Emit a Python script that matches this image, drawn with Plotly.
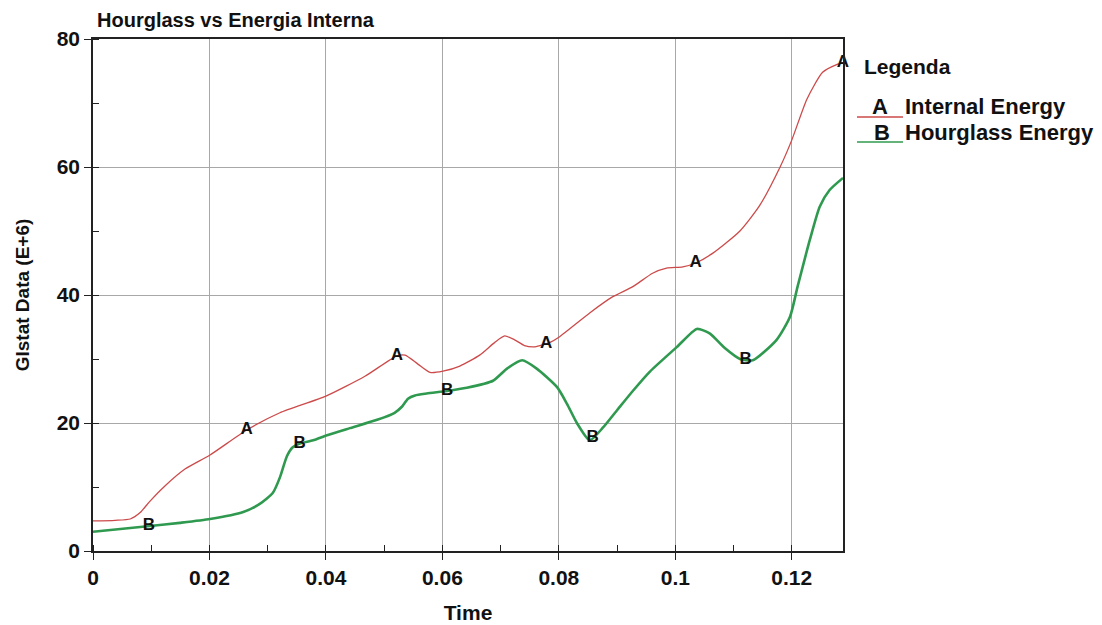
import numpy as np
import plotly.graph_objects as go

# ---- data ----
time_internal = [0.0, 0.0038, 0.0064, 0.0081, 0.0098, 0.0124, 0.0158, 0.0201, 0.0264, 0.0321,
                 0.0400, 0.0467, 0.0522, 0.0536, 0.0558, 0.0579, 0.0601, 0.0630, 0.0664, 0.0690,
                 0.0707, 0.0724, 0.0741, 0.0759, 0.0785, 0.0800, 0.0853, 0.0892, 0.0927, 0.0961,
                 0.0985, 0.1013, 0.1035, 0.1064, 0.1111, 0.1145, 0.1180, 0.1200, 0.1226, 0.1253,
                 0.1277, 0.1288]
internal_energy = [4.7, 4.8, 5.0, 6.0, 7.8, 10.2, 12.8, 15.0, 18.9, 21.6,
                   24.2, 27.3, 30.5, 30.6, 29.2, 27.9, 28.1, 28.9, 30.6, 32.6,
                   33.6, 33.0, 32.1, 31.9, 32.6, 33.4, 37.2, 39.7, 41.3, 43.4,
                   44.2, 44.4, 45.0, 46.5, 50.0, 54.0, 60.0, 64.2, 70.6, 74.8,
                   76.0, 76.3]

time_hourglass = [0.0, 0.0098, 0.0149, 0.0201, 0.0258, 0.0287, 0.0309, 0.0321, 0.0333, 0.0343,
                  0.0355, 0.0378, 0.0402, 0.0441, 0.0488, 0.0518, 0.0530, 0.0541, 0.0553, 0.0573,
                  0.0608, 0.0642, 0.0687, 0.0711, 0.0737, 0.0762, 0.0797, 0.0814, 0.0831, 0.0853,
                  0.0876, 0.0900, 0.0927, 0.0956, 0.1003, 0.1037, 0.1059, 0.1085, 0.1111, 0.1133,
                  0.1174, 0.1197, 0.1210, 0.1231, 0.1248, 0.1265, 0.1288]
hourglass_energy = [3.0, 3.9, 4.4, 5.0, 6.1, 7.4, 9.1, 11.5, 14.8, 16.2,
                    16.8, 17.3, 18.1, 19.2, 20.5, 21.6, 22.5, 23.8, 24.3, 24.6,
                    25.0, 25.5, 26.6, 28.5, 29.8, 28.5, 25.6, 23.0, 20.0, 17.3,
                    19.3, 22.0, 25.0, 28.0, 31.9, 34.7, 34.0, 31.7, 30.0, 29.8,
                    33.0, 36.6, 41.3, 48.6, 53.8, 56.4, 58.3]

label_time_A = [0.0264, 0.0522, 0.0778, 0.1035, 0.1288]
label_time_B = [0.0096, 0.0355, 0.0608, 0.0858, 0.1121]

x_ticks = [0, 0.02, 0.04, 0.06, 0.08, 0.1, 0.12]
y_ticks = [0, 20, 40, 60, 80]

RED = "#cc4a4a"
GREEN = "#2f9a4f"
FONT = "Arial, Liberation Sans, sans-serif"

# the page body adds an 8px offset; margins compensate for it
OFF = 8
W, H = 1102, 625
PLOT_L, PLOT_R, PLOT_T, PLOT_B = 93, 843, 39, 551  # target page pixels

fig = go.Figure()
fig.add_trace(go.Scatter(x=time_internal, y=internal_energy, mode="lines",
                         line=dict(color=RED, width=1.3, shape="spline", smoothing=0.6),
                         name="Internal Energy", showlegend=False))
fig.add_trace(go.Scatter(x=time_hourglass, y=hourglass_energy, mode="lines",
                         line=dict(color=GREEN, width=2.6, shape="spline", smoothing=0.6),
                         name="Hourglass Energy", showlegend=False))

# curve letter labels, placed on the curves
fig.add_trace(go.Scatter(x=label_time_A, y=np.interp(label_time_A, time_internal, internal_energy),
                         mode="text", text=["<b>A</b>"] * len(label_time_A),
                         textfont=dict(family=FONT, size=17, color="#111"),
                         showlegend=False, hoverinfo="skip", cliponaxis=False))
fig.add_trace(go.Scatter(x=label_time_B, y=np.interp(label_time_B, time_hourglass, hourglass_energy),
                         mode="text", text=["<b>B</b>"] * len(label_time_B),
                         textfont=dict(family=FONT, size=17, color="#111"),
                         showlegend=False, hoverinfo="skip", cliponaxis=False))

# custom legend (paper coordinates)
def px_x(p):
    return (p - PLOT_L) / float(PLOT_R - PLOT_L)

def px_y(p):
    return (PLOT_B - p) / float(PLOT_B - PLOT_T)

annos = [
    dict(text="<b>Legenda</b>", x=px_x(862), y=px_y(66), xanchor="left", yanchor="middle", size=21),
    dict(text="<b>A</b>", x=px_x(880), y=px_y(106), xanchor="center", yanchor="middle", size=22),
    dict(text="<b>Internal Energy</b>", x=px_x(903), y=px_y(106), xanchor="left", yanchor="middle", size=22),
    dict(text="<b>B</b>", x=px_x(882), y=px_y(132), xanchor="center", yanchor="middle", size=22),
    dict(text="<b>Hourglass Energy</b>", x=px_x(903), y=px_y(132), xanchor="left", yanchor="middle", size=22),
]
for a in annos:
    s = a.pop("size")
    a.update(xref="paper", yref="paper", showarrow=False,
             font=dict(family=FONT, size=s, color="#111"))
fig.update_layout(annotations=annos)
fig.add_shape(type="line", xref="paper", yref="paper", x0=px_x(857), x1=px_x(903),
              y0=px_y(117), y1=px_y(117), line=dict(color=RED, width=1.5))
fig.add_shape(type="line", xref="paper", yref="paper", x0=px_x(857), x1=px_x(903),
              y0=px_y(142), y1=px_y(142), line=dict(color=GREEN, width=1.5))

axis_common = dict(showgrid=True, gridcolor="#a8a8a8", gridwidth=1,
                   showline=True, linecolor="#222", linewidth=1.6, mirror=True,
                   ticks="outside", ticklen=7, tickcolor="#222", tickwidth=1,
                   zeroline=False,
                   tickfont=dict(family=FONT, size=21, color="#111"))

fig.update_xaxes(range=[0, 0.1288], tickvals=x_ticks,
                 ticktext=["<b>%s</b>" % ("0" if v == 0 else ("%g" % v)) for v in x_ticks],
                 minor=dict(ticks="inside", ticklen=6, dtick=0.01, tick0=0, tickcolor="#222", showgrid=False),
                 title=dict(text="<b>Time</b>", font=dict(family=FONT, size=21, color="#111"), standoff=17),
                 **axis_common)
fig.update_yaxes(range=[0, 80], tickvals=y_ticks,
                 ticktext=["<b>%d</b>" % v for v in y_ticks],
                 minor=dict(ticks="inside", ticklen=6, dtick=10, tick0=0, tickcolor="#222", showgrid=False),
                 title=dict(text="<b>Glstat Data (E+6)</b>", font=dict(family=FONT, size=19, color="#111"), standoff=22),
                 **axis_common)

fig.update_layout(
    width=W, height=H,
    margin=dict(l=PLOT_L - OFF, r=W + OFF - PLOT_R, t=PLOT_T - OFF, b=H + OFF - PLOT_B, autoexpand=False),
    paper_bgcolor="white", plot_bgcolor="white",
    title=dict(text="<b>Hourglass vs Energia Interna</b>", x=(97 - OFF) / W, xanchor="left",
               y=1 - (20 - OFF) / H, yanchor="middle", font=dict(family=FONT, size=20, color="#111")),
    showlegend=False,
)

fig.write_html("out.html")
